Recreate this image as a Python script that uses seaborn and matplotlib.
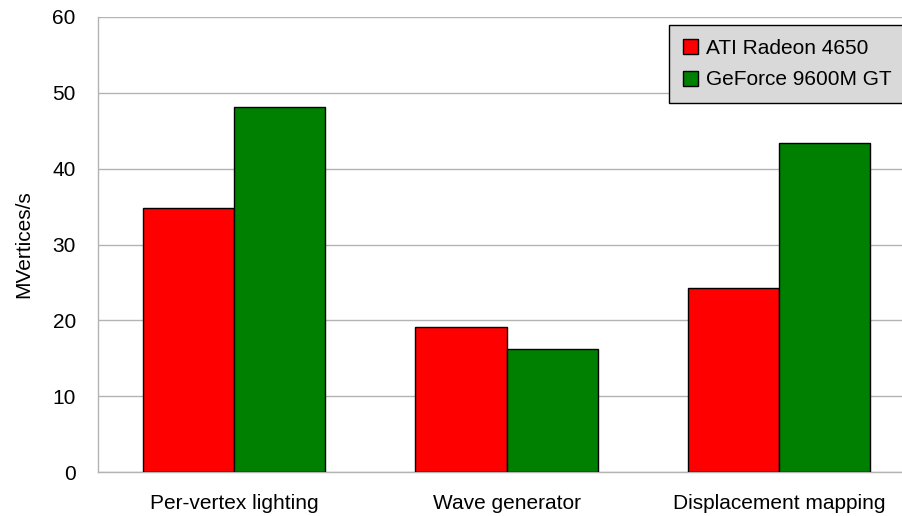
import seaborn as sns
import matplotlib.pyplot as plt
import pandas as pd
from matplotlib.ticker import FixedLocator

# Chart values
categories = ["Per-vertex lighting", "Wave generator", "Displacement mapping"]
series_names = ["ATI Radeon 4650", "GeForce 9600M GT"]
ati_values = [34.8, 19.1, 24.2]
geforce_values = [48.1, 16.2, 43.4]

df = pd.DataFrame({
    "test": categories * 2,
    "gpu": [series_names[0]] * 3 + [series_names[1]] * 3,
    "value": ati_values + geforce_values,
})

sns.set_style("white")
plt.rcParams["font.family"] = ["Liberation Sans", "DejaVu Sans"]
plt.rcParams["text.color"] = "black"
plt.rcParams["axes.labelcolor"] = "black"

fig = plt.figure(figsize=(9.02, 5.16), dpi=100)
ax = fig.add_axes([98 / 902, 44 / 516, 1 - 98 / 902, 455 / 516])

grid_col = "#b3b3b3"
fs = 15

sns.barplot(
    data=df, x="test", y="value", hue="gpu",
    palette=["#ff0000", "#008000"],
    width=0.67, edgecolor="black", linewidth=1,
    saturation=1, ax=ax, zorder=3,
)

ax.set_ylim(0, 60)
ax.set_xlim(-0.5, 2.452)
ax.set_yticks(range(0, 61, 10))
ax.yaxis.grid(True, color=grid_col, linewidth=1, zorder=0)
ax.set_axisbelow(True)

# category labels centered, tick marks on group boundaries
ax.tick_params(axis="x", which="major", length=0, pad=16, labelsize=fs, labelcolor="black")
ax.xaxis.set_minor_locator(FixedLocator([-0.5, 0.5, 1.5, 2.5]))
ax.tick_params(axis="x", which="minor", length=11, color=grid_col, width=1)
ax.tick_params(axis="y", length=11, color=grid_col, width=1, labelsize=fs,
               labelcolor="black", pad=5)

for side in ["top", "right"]:
    ax.spines[side].set_visible(False)
for side in ["left", "bottom"]:
    ax.spines[side].set_color(grid_col)
    ax.spines[side].set_linewidth(1)

ax.set_xlabel("")
ax.set_ylabel("MVertices/s", fontsize=fs, labelpad=14)

leg = ax.legend(
    loc="upper left", bbox_to_anchor=(669 / 902, 1 - 25 / 516),
    bbox_transform=fig.transFigure, title=None,
    fontsize=fs, frameon=True, fancybox=False,
    facecolor="#d9d9d9", edgecolor="black", framealpha=1,
    handlelength=0.75, handleheight=0.75, handletextpad=0.4,
    borderpad=0.65, labelspacing=0.62, borderaxespad=0,
)
leg.get_frame().set_linewidth(1)

fig.savefig("out.png", dpi=100)
